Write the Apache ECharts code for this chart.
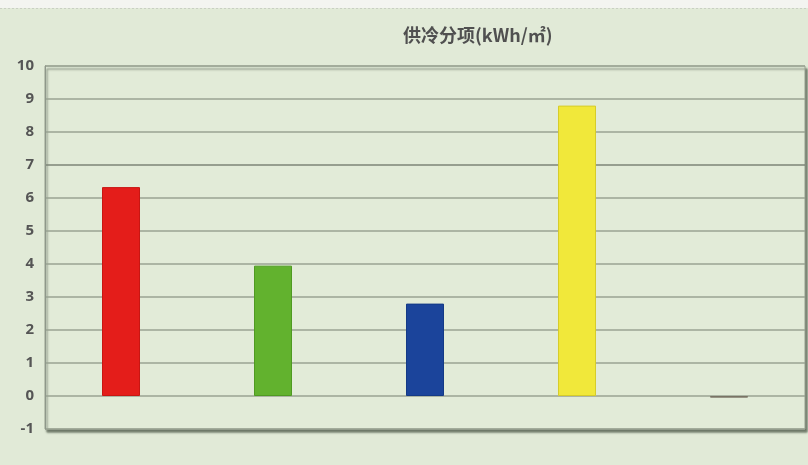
<!DOCTYPE html>
<html>
<head>
<meta charset="utf-8">
<script src="https://cdn.jsdelivr.net/npm/echarts@6/dist/echarts.min.js"></script>
<style>
  html, body { margin: 0; padding: 0; background: #e1ead7; }
  #chart { width: 808px; height: 465px; }
</style>
</head>
<body>
<div id="chart"></div>
<script>
// Cooling sub-item energy intensity, kWh/㎡
const categories = ['1', '2', '3', '4', '5'];
const values = [6.33, 3.95, 2.8, 8.8, -0.05];
const barColors = ['#e41d1a', '#62b22e', '#1b449b', '#f1e83a', '#8c8676'];
const barBorders = ['#c81612', '#4f9a22', '#143a86', '#d6cc2a', '#7a7466'];
const yTicks = { min: -1, max: 10, step: 1 };

// darker line at 7, the rest regular
const gridLineColors = [];
for (let v = yTicks.min; v <= yTicks.max; v += yTicks.step) {
  gridLineColors.push(v === 7 ? '#7c8577' : '#9aa393');
}

const chart = echarts.init(document.getElementById('chart'), null, { renderer: 'canvas' });
chart.setOption({
  backgroundColor: '#e1ead7',
  animation: false,
  title: {
    text: '供冷分项(kWh/㎡)',
    left: 398,
    top: 21,
    textStyle: {
      fontFamily: '"Noto Sans CJK SC", "Noto Sans", sans-serif',
      fontSize: 18,
      fontWeight: 'bold',
      color: '#505050'
    }
  },
  graphic: [
    { type: 'rect', shape: { x: 0, y: 0, width: 808, height: 8 }, style: { fill: '#f3f4f0' }, z: 0 },
    { type: 'line', shape: { x1: 0, y1: 8.5, x2: 808, y2: 8.5 }, style: { stroke: '#c9cfc3', lineWidth: 1, lineDash: [2, 2] } }
  ],
  grid: {
    show: true,
    left: 45,
    right: 3,
    top: 66,
    bottom: 36,
    backgroundColor: '#e2ebd8',
    borderColor: '#9aa393',
    borderWidth: 1,
    shadowColor: 'rgba(70,80,65,0.75)',
    shadowBlur: 2,
    shadowOffsetX: 2,
    shadowOffsetY: 3
  },
  xAxis: {
    type: 'category',
    data: categories,
    axisLine: { show: false },
    axisTick: { show: false },
    axisLabel: { show: false },
    splitLine: { show: false }
  },
  yAxis: {
    type: 'value',
    min: yTicks.min,
    max: yTicks.max,
    interval: yTicks.step,
    axisLine: { show: true, lineStyle: { color: '#8e978a', width: 1 } },
    axisTick: { show: false },
    axisLabel: {
      margin: 11,
      fontFamily: '"Open Sans", "Noto Sans", sans-serif',
      fontSize: 15,
      fontWeight: 'bold',
      color: '#555555'
    },
    splitLine: { show: true, lineStyle: { color: gridLineColors, width: 1.5 } }
  },
  series: [{
    type: 'bar',
    data: values.map((v, i) => ({
      value: v,
      itemStyle: { color: barColors[i], borderColor: barBorders[i], borderWidth: 1 }
    })),
    barWidth: 38
  }]
});
</script>
</body>
</html>
